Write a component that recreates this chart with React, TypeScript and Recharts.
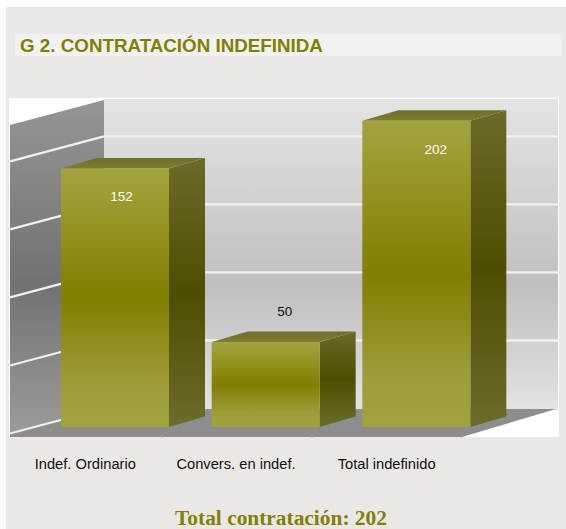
import React from "react";
import { BarChart, Bar, XAxis, YAxis, CartesianGrid, LabelList } from "recharts";

const categories = ["Indef. Ordinario", "Convers. en indef.", "Total indefinido"];
const values = [152, 50, 202];
const yTicks = [0, 40, 80, 120, 160];
const AXIS_CAP = 180;
const data = categories.map((name, i) => ({ name, value: values[i] }));

const DEPTH_X = 36;
const DEPTH_Y = 10.5;
const WALL_DX = 94;
const WALL_DY = 25;
const GRID_BACK_SHIFT = 18.5;
const BACK_LEFT = 104;
const BACK_RIGHT = 558;
const labelDx = [6.5, 19, 19.5];
const labelDy = [28, -31, 28];

const OLIVE = "#808000";

const Box3D = (props: any) => {
  const { x, y, width, height, payload } = props;
  const v = payload.value;
  const unit = height / v;
  const h = Math.min(v, AXIS_CAP) * unit;
  const bottom = y + height;
  const top = bottom - h;
  const r = x + width;
  const dx = DEPTH_X;
  const dy = DEPTH_Y;
  return (
    <g>
      <polygon
        points={`${r},${top} ${r + dx},${top - dy} ${r + dx},${bottom - dy} ${r},${bottom}`}
        fill="url(#sideGrad)"
      />
      <polygon
        points={`${x},${top} ${x + dx},${top - dy} ${r + dx},${top - dy} ${r},${top}`}
        fill="url(#topGrad)"
      />
      <rect x={x} y={top} width={width} height={h} fill="url(#frontGrad)" />
    </g>
  );
};

const Room = () => (
  <svg width={566} height={529} style={{ position: "absolute", left: 0, top: 0 }}>
    <defs>
      <linearGradient id="backGrad" x1="0" y1="0" x2="0" y2="1">
        <stop offset="0%" stopColor="#e4e4e4" />
        <stop offset="60%" stopColor="#bfbfbf" />
        <stop offset="100%" stopColor="#e3e3e3" />
      </linearGradient>
      <linearGradient id="leftGrad" x1="0" y1="0" x2="0" y2="1">
        <stop offset="0%" stopColor="#959595" />
        <stop offset="55%" stopColor="#727272" />
        <stop offset="100%" stopColor="#9b9b9b" />
      </linearGradient>
    </defs>
    <rect x={9} y={98} width={550} height={339} fill="#ffffff" />
    <rect x={BACK_LEFT} y={99} width={BACK_RIGHT - BACK_LEFT} height={311} fill="url(#backGrad)" />
    <polygon
      points={`${BACK_LEFT - WALL_DX},${125} ${BACK_LEFT},${100} ${BACK_LEFT},${409} ${BACK_LEFT - WALL_DX},${434}`}
      fill="url(#leftGrad)"
    />
    <polygon points={`10,437 462,437 556,409 ${BACK_LEFT},409 10,433`} fill="#8d8d8d" />
    {[162, 312, 462].map((tx) => (
      <line key={tx} x1={tx} x2={tx} y1={435} y2={438} stroke="#a8a8a8" strokeWidth={1} />
    ))}
  </svg>
);

const GridLine = (props: any) => {
  const { y1 } = props;
  const backY = y1 - GRID_BACK_SHIFT;
  if (backY < 100) return <g />;
  return (
    <g>
      {backY < 400 && (
        <line x1={BACK_LEFT} x2={BACK_RIGHT} y1={backY} y2={backY} stroke="#f1f1f1" strokeWidth={2.4} />
      )}
      <line
        x1={BACK_LEFT}
        y1={backY}
        x2={BACK_LEFT - WALL_DX}
        y2={backY + WALL_DY}
        stroke="#f1f1f1"
        strokeWidth={2.2}
      />
    </g>
  );
};

const EmptyTick = () => <g />;

const CategoryTick = (props: any) => {
  const { x, y, payload } = props;
  return (
    <text
      x={x - 30}
      y={y + 34}
      textAnchor="middle"
      fontFamily="'Liberation Sans', Arial, sans-serif"
      fontSize={14.7}
      fill="#111111"
    >
      {payload.value}
    </text>
  );
};

const ValueLabel = (props: any) => {
  const { x, width, index, value, viewBox } = props;
  const vb = viewBox || props;
  const unit = vb.height / value;
  const top = vb.y + vb.height - Math.min(value, AXIS_CAP) * unit;
  return (
    <text
      x={x + width / 2 + labelDx[index]}
      y={top + labelDy[index] + 5}
      textAnchor="middle"
      fontFamily="'Liberation Sans', Arial, sans-serif"
      fontSize={13.5}
      fill={index === 1 ? "#111111" : "#ffffff"}
    >
      {value}
    </text>
  );
};

export default function App() {
  return (
    <div style={{ position: "absolute", left: 0, top: 0, width: 566, height: 529, background: "#ffffff", overflow: "hidden" }}>
      <div style={{ position: "absolute", left: 6, top: 7, width: 560, height: 522, background: "#ece7e7" }} />
      <div
        style={{
          position: "absolute",
          left: 15,
          top: 34,
          width: 547,
          height: 22,
          lineHeight: "23px",
          background: "#f1f1f1",
          color: OLIVE,
          fontFamily: "'Liberation Sans', Arial, sans-serif",
          fontWeight: 700,
          fontSize: 18.8,
          paddingLeft: 5,
          boxSizing: "border-box",
          whiteSpace: "nowrap",
        }}
      >
        G 2. CONTRATACIÓN INDEFINIDA
      </div>
      <Room />
      <div style={{ position: "absolute", left: 0, top: 0 }}>
        <BarChart
          width={566}
          height={529}
          data={data}
          margin={{ top: 80, right: 74, bottom: 72, left: 39 }}
          style={{ background: "transparent" }}
        >
          <defs>
            <linearGradient id="frontGrad" x1="0" y1="0" x2="0" y2="1">
              <stop offset="0%" stopColor="#a3a43f" />
              <stop offset="50%" stopColor="#807f00" />
              <stop offset="82%" stopColor="#9c9c38" />
              <stop offset="100%" stopColor="#a2a23f" />
            </linearGradient>
            <linearGradient id="sideGrad" x1="0" y1="0" x2="0" y2="1">
              <stop offset="0%" stopColor="#6b6b2a" />
              <stop offset="50%" stopColor="#4f4d00" />
              <stop offset="100%" stopColor="#6c6c2c" />
            </linearGradient>
            <linearGradient id="topGrad" x1="0" y1="0" x2="0" y2="1">
              <stop offset="0%" stopColor="#6f6f2a" />
              <stop offset="100%" stopColor="#7d7d30" />
            </linearGradient>
          </defs>
          <CartesianGrid vertical={false} horizontal={GridLine as any} syncWithTicks />
          <XAxis
            dataKey="name"
            axisLine={false}
            tickLine={false}
            height={30}
            interval={0}
            tick={CategoryTick as any}
          />
          <YAxis
            width={1}
            domain={[0, 204]}
            ticks={yTicks}
            interval={0}
            tick={EmptyTick as any}
            axisLine={false}
            tickLine={false}
          />
          <Bar dataKey="value" barSize={108} shape={Box3D as any} isAnimationActive={false}>
            <LabelList dataKey="value" content={ValueLabel as any} />
          </Bar>
        </BarChart>
      </div>
      <div
        style={{
          position: "absolute",
          left: 0,
          width: 562,
          top: 508,
          textAlign: "center",
          color: OLIVE,
          fontFamily: "'Liberation Serif', 'Times New Roman', serif",
          fontWeight: 700,
          fontSize: 21.4,
          lineHeight: "21px",
          whiteSpace: "nowrap",
        }}
      >
        Total contratación: 202
      </div>
    </div>
  );
}
